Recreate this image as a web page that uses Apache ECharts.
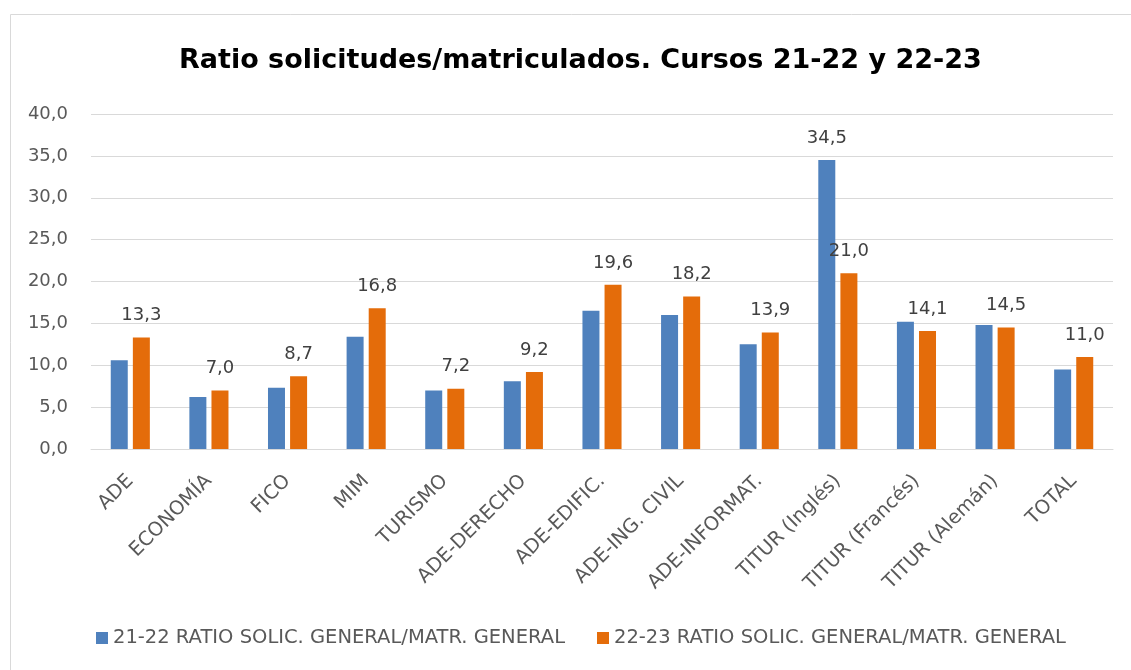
<!DOCTYPE html>
<html>
<head>
<meta charset="utf-8">
<script src="https://cdn.jsdelivr.net/npm/echarts@6/dist/echarts.min.js"></script>
<style>html,body{margin:0;padding:0;background:#fff;}#c{width:1131px;height:670px;}</style>
</head>
<body>
<div id="c"></div>
<script>
const categories = ['ADE','ECONOMÍA','FICO','MIM','TURISMO','ADE-DERECHO','ADE-EDIFIC.','ADE-ING. CIVIL','ADE-INFORMAT.','TITUR (Inglés)','TITUR (Francés)','TITUR (Alemán)','TOTAL'];
const ratio2122 = [10.6, 6.2, 7.3, 13.4, 7.0, 8.1, 16.5, 16.0, 12.5, 34.5, 15.2, 14.8, 9.5];
const ratio2223 = [13.3, 7.0, 8.7, 16.8, 7.2, 9.2, 19.6, 18.2, 13.9, 21.0, 14.1, 14.5, 11.0];
const labelled2122 = ['TITUR (Inglés)'];
const seriesNames = ['21-22 RATIO SOLIC. GENERAL/MATR. GENERAL','22-23 RATIO SOLIC. GENERAL/MATR. GENERAL'];
const yTicks = {min: 0, max: 40, interval: 5};

const FONT = '"DejaVu Sans", sans-serif';
const fmt = v => v.toFixed(1).replace('.', ',');
const chart = echarts.init(document.getElementById('c'));
const labelStyle = {show: true, position: 'top', distance: 13, color: '#404040', fontSize: 18, fontFamily: FONT, formatter: p => fmt(p.value)};
chart.setOption({
  animation: false,
  graphic: [{type: 'rect', shape: {x: 10.5, y: 14.5, width: 1200, height: 700}, style: {fill: 'none', stroke: '#d9d9d9', lineWidth: 1}, silent: true}],
  title: {text: 'Ratio solicitudes/matriculados. Cursos 21-22 y 22-23', left: 174, top: 42,
    textStyle: {fontFamily: FONT, fontWeight: 'bold', fontSize: 27, color: '#000'}},
  legend: {bottom: 17, left: 91, itemWidth: 12, itemHeight: 12, itemGap: 32, icon: 'rect',
    textStyle: {fontFamily: FONT, fontSize: 19.5, color: '#595959'}, data: seriesNames},
  grid: {left: 91, right: 18, top: 114, bottom: 221, containLabel: false},
  xAxis: {type: 'category', data: categories,
    axisLine: {lineStyle: {color: '#d9d9d9'}}, axisTick: {show: false},
    axisLabel: {rotate: 45, interval: 0, margin: 29, color: '#595959', fontSize: 19.5, fontFamily: FONT}},
  yAxis: {type: 'value', min: yTicks.min, max: yTicks.max, interval: yTicks.interval,
    axisLine: {show: false}, axisTick: {show: false},
    splitLine: {lineStyle: {color: '#d9d9d9', width: 1}},
    axisLabel: {color: '#595959', fontSize: 18, fontFamily: FONT, margin: 23, formatter: v => fmt(v)}},
  series: [
    {name: seriesNames[0], type: 'bar', barWidth: 17, barGap: '30%', itemStyle: {color: '#4f81bd'},
      data: ratio2122.map((v, i) => labelled2122.includes(categories[i]) ? {value: v, label: labelStyle} : v)},
    {name: seriesNames[1], type: 'bar', barWidth: 17, barGap: '30%', itemStyle: {color: '#e46c0a'},
      label: labelStyle, data: ratio2223}
  ]
});
</script>
</body>
</html>
